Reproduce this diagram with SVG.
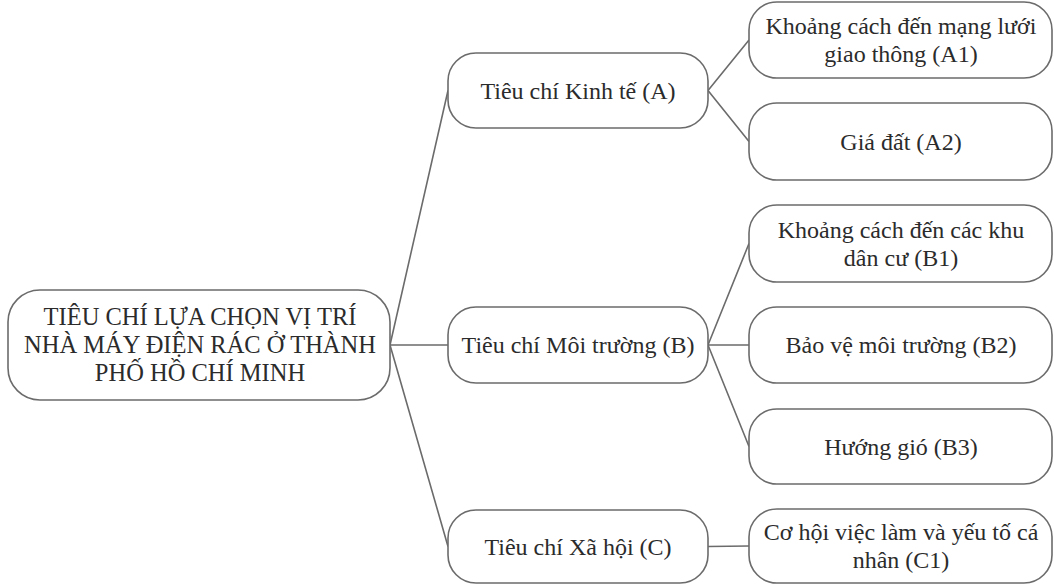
<svg xmlns="http://www.w3.org/2000/svg" width="1054" height="585" viewBox="0 0 1054 585">
<style>
.box{fill:#ffffff;stroke:#6b6b6b;stroke-width:1.6}
.ln{fill:none;stroke:#6b6b6b;stroke-width:1.6}
.t{font-family:'Liberation Serif','Times New Roman',Tinos,'DejaVu Serif',serif;font-size:24px;fill:#2b2b2b;text-anchor:middle}
.r{font-size:24.5px}
</style>
<rect width="1054" height="585" fill="#ffffff"/>
<g id="connectors">
<path class="ln" d="M390,345 L448,90.5 M390,345 L448,345 M390,345 L448,546.5"/>
<path class="ln" d="M708,90.5 L749,40 M708,90.5 L749,141.5"/>
<path class="ln" d="M708,345 L749,243.5 M708,345 L749,345 M708,345 L749,446.5"/>
<path class="ln" d="M708,546.5 L749,546"/>
</g>
<g id="root">
<rect class="box" x="8" y="290" width="382" height="110" rx="32"/>
<text class="t r" x="200" y="325" font-family="Liberation Serif, serif">TIÊU CHÍ LỰA CHỌN VỊ TRÍ</text>
<text class="t r" x="200" y="353" font-family="Liberation Serif, serif">NHÀ MÁY ĐIỆN RÁC Ở THÀNH</text>
<text class="t r" x="200" y="381" font-family="Liberation Serif, serif">PHỐ HỒ CHÍ MINH</text>
</g>
<g id="A">
<rect class="box" x="448" y="53" width="260" height="75" rx="28"/>
<text class="t" x="578" y="98.5" font-family="Liberation Serif, serif">Tiêu chí Kinh tế (A)</text>
</g>
<g id="B">
<rect class="box" x="448" y="307" width="260" height="76" rx="28"/>
<text class="t" x="578" y="353" font-family="Liberation Serif, serif">Tiêu chí Môi trường (B)</text>
</g>
<g id="C">
<rect class="box" x="448" y="510" width="260" height="73" rx="28"/>
<text class="t" x="578" y="554.5" font-family="Liberation Serif, serif">Tiêu chí Xã hội (C)</text>
</g>
<g id="A1">
<rect class="box" x="749" y="2" width="303" height="76" rx="28"/>
<text class="t" x="901" y="34" font-family="Liberation Serif, serif">Khoảng cách đến mạng lưới</text>
<text class="t" x="901" y="62" font-family="Liberation Serif, serif">giao thông (A1)</text>
</g>
<g id="A2">
<rect class="box" x="749" y="103" width="303" height="77" rx="28"/>
<text class="t" x="901" y="149.5" font-family="Liberation Serif, serif">Giá đất (A2)</text>
</g>
<g id="B1">
<rect class="box" x="749" y="205" width="303" height="77" rx="28"/>
<text class="t" x="901" y="237.5" font-family="Liberation Serif, serif">Khoảng cách đến các khu</text>
<text class="t" x="901" y="265.5" font-family="Liberation Serif, serif">dân cư (B1)</text>
</g>
<g id="B2">
<rect class="box" x="749" y="307" width="303" height="76" rx="28"/>
<text class="t" x="901" y="353" font-family="Liberation Serif, serif">Bảo vệ môi trường (B2)</text>
</g>
<g id="B3">
<rect class="box" x="749" y="409" width="303" height="75" rx="28"/>
<text class="t" x="901" y="454.5" font-family="Liberation Serif, serif">Hướng gió (B3)</text>
</g>
<g id="C1">
<rect class="box" x="749" y="509" width="303" height="74" rx="28"/>
<text class="t" x="901" y="540" font-family="Liberation Serif, serif">Cơ hội việc làm và yếu tố cá</text>
<text class="t" x="901" y="568" font-family="Liberation Serif, serif">nhân (C1)</text>
</g>
</svg>
